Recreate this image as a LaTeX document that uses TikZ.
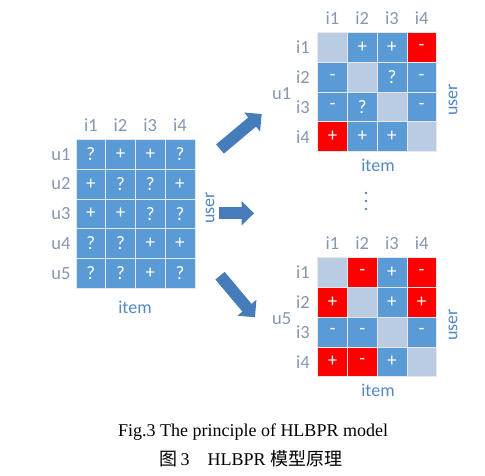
\documentclass[tikz,border=0pt]{standalone}
\usepackage{fontspec}
\setmainfont{Liberation Serif}
\newfontfamily\lab{Carlito}
\newfontfamily\cjk{Noto Sans CJK SC}
\usepackage{tikz}
\usetikzlibrary{arrows.meta,positioning,calc}
\definecolor{cellblue}{RGB}{91,155,213}
\definecolor{celllight}{RGB}{186,204,228}
\definecolor{cellred}{RGB}{255,0,0}
\definecolor{labgray}{RGB}{132,151,176}
\definecolor{labblue}{RGB}{84,135,200}
\definecolor{arrowblue}{RGB}{70,124,185}
\tikzset{
  cell/.style    ={minimum size=29.7pt,inner sep=0pt,draw=white!82!gray,line width=0.6pt,
                   text=white,font=\lab\fontsize{19}{19}\selectfont},
  cb/.style      ={cell,fill=cellblue},
  cr/.style      ={cell,fill=cellred},
  cl/.style      ={cell,fill=celllight},
  idx/.style     ={text=labgray,inner sep=0pt,font=\lab\fontsize{18.5}{19}\selectfont},
  axislab/.style ={text=labblue,inner sep=0pt,font=\lab\fontsize{18}{19}\selectfont},
  bigarrow/.style={arrowblue,line width=12pt,-{Triangle[length=12.5pt,width=24pt]}},
  dot/.style     ={circle,fill=labblue,minimum size=2.6pt,inner sep=0pt},
  figcap/.style  ={inner sep=0pt,font=\fontsize{18}{19}\selectfont},
}

\begin{document}
\begin{tikzpicture}[x=1pt,y=-1pt]
  \useasboundingbox (0,0) rectangle (485,476);
  % user-item matrix
  \foreach \s/\t [count=\k from 0] in {cb/?,cb/+,cb/+,cb/?, cb/+,cb/?,cb/?,cb/+,
      cb/+,cb/+,cb/?,cb/?, cb/?,cb/?,cb/+,cb/+, cb/?,cb/?,cb/+,cb/?}{
    \pgfmathtruncatemacro\r{div(\k,4)}
    \pgfmathtruncatemacro\c{mod(\k,4)}
    \node[\s] (L\r\c) at (90.85+29.7*\c,154.35+29.7*\r) {\t};
  }
  \foreach \c in {1,...,4} \node[idx] (Lc\c) at (61.15+29.7*\c,125) {i\c};
  \foreach \r in {1,...,5} \node[idx] (Lr\r) at (61,124.65+29.7*\r) {u\r};
  \node[axislab] (Litem) at (135,307) {item};
  \node[axislab,rotate=90] (Luser) at (210,208) {user};
  % item-item matrix of u1
  \foreach \s/\t [count=\k from 0] in {cl/{},cb/+,cb/+,cr/-, cb/-,cl/{},cb/?,cb/-,
      cb/-,cb/?,cl/{},cb/-, cr/+,cb/+,cb/+,cl/{}}{
    \pgfmathtruncatemacro\r{div(\k,4)}
    \pgfmathtruncatemacro\c{mod(\k,4)}
    \node[\s] (A\r\c) at (332.55+29.7*\c,47.55+29.7*\r) {\t};
  }
  \foreach \c in {1,...,4} \node[idx] (Ac\c) at (302.85+29.7*\c,18.3) {i\c};
  \foreach \r in {1,...,4} \node[idx] (Ar\r) at (303,17.85+29.7*\r) {i\r};
  \node[idx] (Au) at (281.7,94) {u1};
  \node[axislab] (Aitem) at (378,165.7) {item};
  \node[axislab,rotate=90] (Auser) at (453,100) {user};
  % item-item matrix of u5
  \foreach \s/\t [count=\k from 0] in {cl/{},cr/-,cb/+,cr/-, cr/+,cl/{},cb/+,cr/+,
      cb/-,cb/-,cl/{},cb/-, cr/+,cr/-,cb/+,cl/{}}{
    \pgfmathtruncatemacro\r{div(\k,4)}
    \pgfmathtruncatemacro\c{mod(\k,4)}
    \node[\s] (B\r\c) at (332.55+29.7*\c,272.55+29.7*\r) {\t};
  }
  \foreach \c in {1,...,4} \node[idx] (Bc\c) at (302.85+29.7*\c,243) {i\c};
  \foreach \r in {1,...,4} \node[idx] (Br\r) at (303,242.85+29.7*\r) {i\r};
  \node[idx] (Bu) at (281.7,319) {u5};
  \node[axislab] (Bitem) at (378,390.7) {item};
  \node[axislab,rotate=90] (Buser) at (453,325) {user};
  % dots between the two
  \node[dot] (d1) at (366,193) {};
  \node[dot] (d2) at (366,201) {};
  \node[dot] (d3) at (366,209) {};
  % arrows
  \coordinate (t1) at (220,149);   \coordinate (h1) at (261.7,114);
  \coordinate (t2) at (219.3,213.3); \coordinate (h2) at (254,213.3);
  \coordinate (t3) at (220,275.7); \coordinate (h3) at (255,317.3);
  \draw[bigarrow] (t1) -- (h1);
  \draw[bigarrow] (t2) -- (h2);
  \draw[bigarrow] (t3) -- (h3);
  % caption
  \node[figcap] (cap1) at (253,432) {Fig.3 The principle of HLBPR model};
  \node[figcap] (cap2) at (251,459) {{\cjk 图}\,3\quad HLBPR {\cjk 模型原理}};
\end{tikzpicture}
\end{document}
